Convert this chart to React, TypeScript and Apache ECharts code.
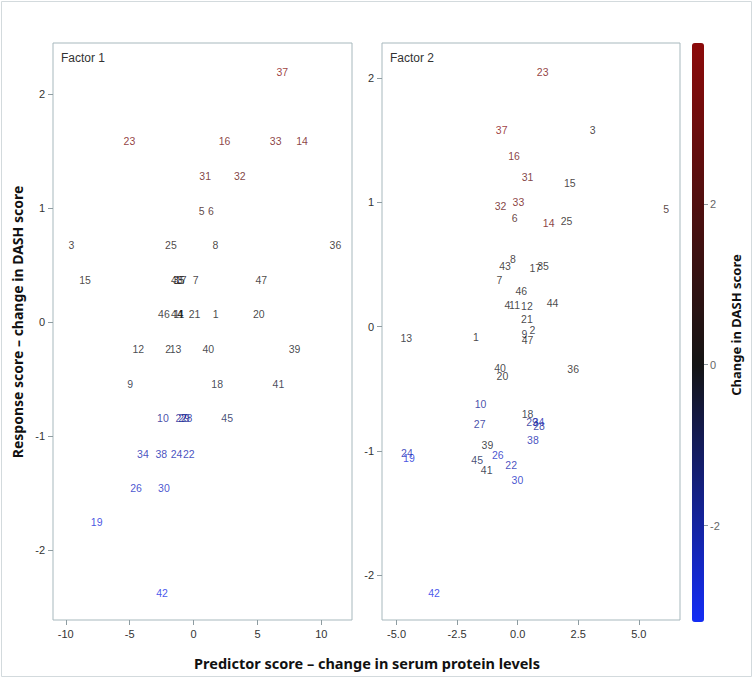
import React, { useEffect, useRef } from 'react';
import * as echarts from 'echarts';

const ids = Array.from({ length: 47 }, (_, i) => String(i + 1));

// Factor 1 (left panel) predictor score, by subject 1..47
const f1X = [1.74, -1.98, -9.55, -1.0, 0.63, 1.35, 0.16, 1.72, -4.97, -2.4,
  -1.15, -4.32, -1.41, 8.49, -8.49, 2.42, -1.0, 1.85, -7.58, 5.1,
  0.08, -0.37, -5.02, -1.33, -1.77, -4.5, -0.95, -0.55, -0.75, -2.32,
  0.91, 3.62, 6.43, -3.96, -1.15, 11.1, 6.95, -2.53, 7.9, 1.15,
  6.64, -2.47, -1.3, -1.3, 2.63, -2.32, 5.3];
// Factor 1 response score
const f1Y = [0.076, -0.237, 0.675, 0.076, 0.98, 0.98, 0.375, 0.675, -0.54, -0.84,
  0.076, -0.237, -0.237, 1.59, 0.375, 1.59, 0.375, -0.54, -1.75, 0.076,
  0.076, -1.15, 1.59, -1.15, 0.675, -1.45, -0.84, -0.84, -0.84, -1.45,
  1.28, 1.28, 1.59, -1.15, 0.375, 0.675, 2.2, -1.15, -0.237, -0.237,
  -0.54, -2.37, 0.375, 0.076, -0.84, 0.076, 0.375];
// Factor 2 (right panel) predictor score
const f2X = [-1.72, 0.61, 3.1, -0.42, 6.13, -0.12, -0.75, -0.2, 0.28, -1.53,
  -0.13, 0.38, -4.6, 1.28, 2.15, -0.15, 0.73, 0.41, -4.49, -0.63,
  0.38, -0.27, 1.03, -4.57, 2.02, -0.82, -1.57, 0.88, 0.59, -0.01,
  0.41, -0.71, 0.03, 0.86, 1.05, 2.29, -0.66, 0.63, -1.25, -0.73,
  -1.28, -3.45, -0.52, 1.44, -1.67, 0.15, 0.41];
// Factor 2 response score
const f2Y = [-0.082, -0.028, 1.58, 0.173, 0.945, 0.87, 0.375, 0.54, -0.063, -0.62,
  0.173, 0.168, -0.095, 0.83, 1.155, 1.375, 0.47, -0.7, -1.06, -0.4,
  0.06, -1.11, 2.05, -1.015, 0.845, -1.036, -0.78, -0.8, -0.77, -1.235,
  1.2, 0.966, 1.0, -0.77, 0.49, -0.34, 1.58, -0.91, -0.955, -0.33,
  -1.15, -2.14, 0.49, 0.19, -1.077, 0.286, -0.11];
// Change in DASH score (colour)
const dash = [0, -0.2, 0.4, 0, 1.0, 1.5, 0.1, 0.4, -0.4, -1.8,
  0, -0.2, -0.2, 3.0, 0.2, 3.0, 0.1, -0.4, -2.8, 0,
  0, -2.2, 3.3, -2.2, 0.4, -2.5, -1.8, -1.8, -1.8, -2.5,
  2.6, 2.6, 3.0, -2.2, 0.1, 0.4, 3.8, -2.2, -0.2, -0.2,
  -0.4, -3.0, 0.1, 0, -0.9, 0, 0.1];

const f1XTicks = [-10, -5, 0, 5, 10];
const f2XTicks = [-5, -2.5, 0, 2.5, 5];
const yTicks = [-2, -1, 0, 1, 2];
const cbTicks = [-2, 0, 2];

const DASH_MIN = -3.2;
const DASH_MAX = 4.0;

function dashColor(v: number): string {
  const black = [20, 20, 20];
  const blue = [20, 45, 245];
  const red = [140, 10, 10];
  let t: number;
  let end: number[];
  if (v < 0) {
    t = Math.min(1, -v / -DASH_MIN);
    end = blue;
  } else {
    t = Math.min(1, v / DASH_MAX);
    end = red;
  }
  const c = black.map((b, i) => Math.round(b + (end[i] - b) * t));
  return `rgb(${c[0]},${c[1]},${c[2]})`;
}

const labelFont = "'Liberation Sans', Arial, sans-serif";
const titleFont = "'Noto Sans', 'Open Sans', sans-serif";
const frameColor = '#a7b8bd';
const tickColor = '#8e9ca1';

export default function App() {
  const ref = useRef<HTMLDivElement>(null);
  useEffect(() => {
    if (!ref.current) return;
    const chart = echarts.init(ref.current, null, { renderer: 'svg' });

    const mk = (xs: number[], ys: number[]) =>
      ids.map((id, i) => ({
        name: id,
        value: [xs[i], ys[i]],
        label: { color: dashColor(dash[i]) },
      }));

    const stops: string[] = [];
    for (let i = 0; i <= 36; i++) {
      stops.push(dashColor(DASH_MIN + ((DASH_MAX - DASH_MIN) * i) / 36));
    }

    const xAxisCommon = (ticks: number[], fmt: (v: number) => string) => ({
      type: 'value',
      axisLine: { show: false, onZero: false },
      splitLine: { show: false },
      axisTick: { show: true, length: 5, lineStyle: { color: tickColor }, customValues: ticks },
      axisLabel: {
        customValues: ticks,
        formatter: fmt,
        fontSize: 11,
        fontFamily: labelFont,
        color: '#333',
        margin: 8,
      },
    });
    const yAxisCommon = () => ({
      type: 'value',
      axisLine: { show: false, onZero: false },
      splitLine: { show: false },
      axisTick: { show: true, length: 5, lineStyle: { color: tickColor }, customValues: yTicks },
      axisLabel: {
        customValues: yTicks,
        formatter: (v: number) => String(v),
        fontSize: 11,
        fontFamily: labelFont,
        color: '#333',
        margin: 8,
      },
    });

    const seriesCommon = {
      type: 'scatter',
      symbolSize: 1,
      itemStyle: { color: 'rgba(0,0,0,0)' },
      silent: true,
      label: {
        show: true,
        position: 'inside',
        formatter: '{b}',
        fontSize: 10.5,
        fontFamily: labelFont,
      },
      emphasis: { disabled: true },
    };

    const option: any = {
      animation: false,
      backgroundColor: '#fff',
      grid: [
        { left: 53, top: 43, width: 299, height: 577, show: true, borderColor: frameColor, borderWidth: 1, backgroundColor: '#fff' },
        { left: 382, top: 43, width: 298, height: 577, show: true, borderColor: frameColor, borderWidth: 1, backgroundColor: '#fff' },
        { left: 692, top: 43, width: 12, height: 579, show: false },
      ],
      xAxis: [
        { gridIndex: 0, min: -11, max: 12.4, ...xAxisCommon(f1XTicks, (v: number) => String(v)) },
        { gridIndex: 1, min: -5.6, max: 6.7, ...xAxisCommon(f2XTicks, (v: number) => v.toFixed(1)) },
        { gridIndex: 2, type: 'value', min: 0, max: 1, show: false },
      ],
      yAxis: [
        { gridIndex: 0, min: -2.61, max: 2.45, ...yAxisCommon() },
        { gridIndex: 1, min: -2.36, max: 2.28, ...yAxisCommon() },
        {
          gridIndex: 2,
          type: 'value',
          position: 'right',
          min: DASH_MIN,
          max: DASH_MAX,
          axisLine: { show: false, onZero: false },
          splitLine: { show: false },
          axisTick: { show: true, length: 4, lineStyle: { color: tickColor }, customValues: cbTicks },
          axisLabel: {
            customValues: cbTicks,
            formatter: (v: number) => String(v),
            fontSize: 11,
            fontFamily: labelFont,
            color: '#666',
            margin: 6,
          },
        },
      ],
      visualMap: {
        type: 'continuous',
        min: DASH_MIN,
        max: DASH_MAX,
        seriesIndex: 2,
        left: 692,
        top: 43,
        itemWidth: 12,
        itemHeight: 579,
        padding: 0,
        calculable: false,
        hoverLink: false,
        orient: 'vertical',
        inRange: { color: stops },
      },
      series: [
        { ...seriesCommon, xAxisIndex: 0, yAxisIndex: 0, data: mk(f1X, f1Y) },
        { ...seriesCommon, xAxisIndex: 1, yAxisIndex: 1, data: mk(f2X, f2Y) },
        { type: 'scatter', xAxisIndex: 2, yAxisIndex: 2, data: [], symbolSize: 0 },
      ],
      graphic: [
        {
          type: 'rect',
          shape: { x: 1.5, y: 1.5, width: 750, height: 675 },
          style: { fill: 'none', stroke: '#d3dadd', lineWidth: 1 },
          silent: true,
        },
        {
          type: 'text', x: 61, y: 58,
          style: { text: 'Factor 1', fontSize: 12, fontFamily: labelFont, fill: '#333', textAlign: 'left', textVerticalAlign: 'middle' },
        },
        {
          type: 'text', x: 390, y: 58,
          style: { text: 'Factor 2', fontSize: 12, fontFamily: labelFont, fill: '#333', textAlign: 'left', textVerticalAlign: 'middle' },
        },
        {
          type: 'text', x: 17, y: 322, rotation: Math.PI / 2,
          style: { text: 'Response score – change in DASH score', fontSize: 14, fontWeight: 'bold', fontFamily: titleFont, fill: '#111', textAlign: 'center', textVerticalAlign: 'middle' },
        },
        {
          type: 'text', x: 367, y: 663,
          style: { text: 'Predictor score – change in serum protein levels', fontSize: 14.5, fontWeight: 'bold', fontFamily: titleFont, fill: '#111', textAlign: 'center', textVerticalAlign: 'middle' },
        },
        {
          type: 'text', x: 736, y: 325, rotation: Math.PI / 2,
          style: { text: 'Change in DASH score', fontSize: 13, fontWeight: 'bold', fontFamily: titleFont, fill: '#111', textAlign: 'center', textVerticalAlign: 'middle' },
        },
      ],
    };

    chart.setOption(option);
    return () => chart.dispose();
  }, []);

  return (
    <div
      ref={ref}
      style={{ position: 'absolute', left: 0, top: 0, width: 754, height: 681, background: '#fff' }}
    />
  );
}
